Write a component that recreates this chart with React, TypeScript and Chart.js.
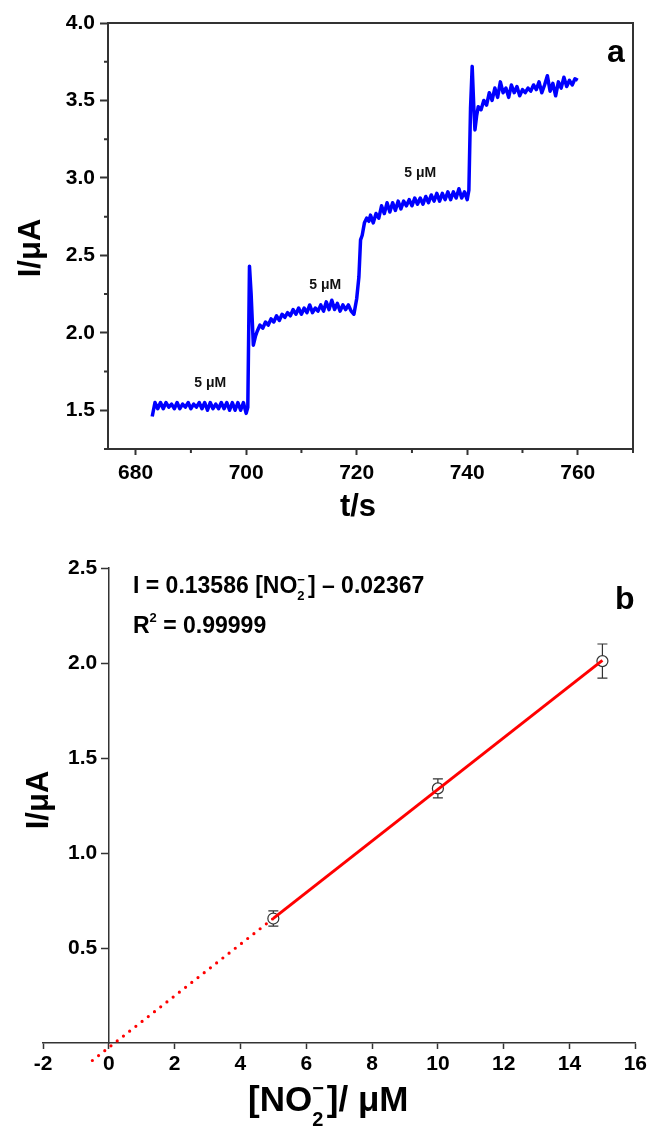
import React, { useEffect, useRef } from 'react';
import { Chart, registerables } from 'chart.js';

Chart.register(...registerables);

const FONT = '"Liberation Sans", Arial, Helvetica, sans-serif';
const AXIS = '#333333';

// ---------- Panel a : amperometric trace ----------
const traceTime = [
  683, 683.5, 684, 684.5, 685, 685.5, 686, 686.5, 687, 687.5,
  688, 688.5, 689, 689.5, 690, 690.5, 691, 691.5, 692, 692.5,
  693, 693.5, 694, 694.5, 695, 695.5, 696, 696.5, 697, 697.5,
  698, 698.5, 699, 699.5, 700, 700.3, 700.6, 700.9, 701.3, 701.7,
  702, 702.5, 703, 703.5, 704, 704.5, 705, 705.5, 706, 706.5,
  707, 707.5, 708, 708.5, 709, 709.5, 710, 710.5, 711, 711.5,
  712, 712.5, 713, 713.5, 714, 714.5, 715, 715.5, 716, 716.5,
  717, 717.5, 718, 718.5, 719, 719.5, 720, 720.4, 720.7, 721,
  721.4, 721.8, 722.2, 722.5, 723, 723.5, 724, 724.5, 725, 725.5,
  726, 726.5, 727, 727.5, 728, 728.5, 729, 729.5, 730, 730.5,
  731, 731.5, 732, 732.5, 733, 733.5, 734, 734.5, 735, 735.5,
  736, 736.5, 737, 737.5, 738, 738.5, 739, 739.5, 740, 740.3,
  740.6, 740.9, 741.2, 741.4, 741.7, 742, 742.5, 743, 743.5, 744,
  744.5, 745, 745.5, 746, 746.5, 747, 747.5, 748, 748.5, 749,
  749.5, 750, 750.5, 751, 751.5, 752, 752.5, 753, 753.5, 754,
  754.5, 755, 755.5, 756, 756.5, 757, 757.5, 758, 758.5, 759,
  759.5, 760,
];
const traceCurrent = [
  1.46, 1.55, 1.51, 1.55, 1.51, 1.55, 1.52, 1.54, 1.51, 1.55,
  1.51, 1.54, 1.52, 1.55, 1.51, 1.54, 1.52, 1.55, 1.51, 1.55,
  1.50, 1.55, 1.51, 1.54, 1.51, 1.55, 1.51, 1.55, 1.50, 1.55,
  1.50, 1.55, 1.50, 1.55, 1.48, 1.52, 2.43, 2.25, 1.92, 1.98,
  2.01, 2.05, 2.03, 2.07, 2.05, 2.09, 2.07, 2.11, 2.08, 2.12,
  2.10, 2.13, 2.11, 2.15, 2.12, 2.16, 2.12, 2.16, 2.13, 2.18,
  2.13, 2.16, 2.14, 2.18, 2.14, 2.20, 2.15, 2.21, 2.15, 2.19,
  2.14, 2.18, 2.15, 2.18, 2.14, 2.12, 2.22, 2.36, 2.60, 2.63,
  2.71, 2.74, 2.72, 2.76, 2.71, 2.77, 2.74, 2.82, 2.77, 2.84,
  2.78, 2.84, 2.79, 2.85, 2.80, 2.85, 2.82, 2.86, 2.82, 2.87,
  2.83, 2.87, 2.83, 2.88, 2.84, 2.89, 2.85, 2.90, 2.85, 2.90,
  2.86, 2.91, 2.86, 2.91, 2.87, 2.93, 2.87, 2.91, 2.86, 2.92,
  3.45, 3.72, 3.45, 3.31, 3.40, 3.46, 3.44, 3.50, 3.47, 3.55,
  3.50, 3.58, 3.52, 3.62, 3.55, 3.58, 3.52, 3.60, 3.55, 3.59,
  3.53, 3.57, 3.55, 3.58, 3.56, 3.60, 3.57, 3.62, 3.55, 3.60,
  3.66, 3.56, 3.61, 3.53, 3.62, 3.58, 3.65, 3.59, 3.63, 3.60,
  3.64, 3.63,
];
const xTicksA = [680, 700, 720, 740, 760];
const xMinorA = [690, 710, 730, 750, 770];
const yTicksA = [1.5, 2.0, 2.5, 3.0, 3.5, 4.0];
const yMinorA = [1.25, 1.75, 2.25, 2.75, 3.25, 3.75];
const stepLabels = ['5 μM', '5 μM', '5 μM'];

// ---------- Panel b : calibration ----------
const concentration = [5, 10, 15];
const currentB = [0.655, 1.34, 2.01];
const errorB = [0.04, 0.05, 0.09];
const fitSolidX = [5, 15];
const fitSolidY = [0.656, 2.014];
const fitDotX = [-0.5, 5];
const fitDotY = [-0.092, 0.656];
const xTicksB = [-2, 0, 2, 4, 6, 8, 10, 12, 14, 16];
const yTicksB = [0.5, 1.0, 1.5, 2.0, 2.5];

type Run = { t: string; size: number; dy?: number; adv?: boolean; gap?: number };
function drawRuns(ctx: CanvasRenderingContext2D, x: number, y: number, runs: Run[]) {
  let cx = x;
  for (const r of runs) {
    ctx.font = `bold ${r.size}px ${FONT}`;
    ctx.fillText(r.t, cx, y + (r.dy || 0));
    if (r.adv !== false) cx += ctx.measureText(r.t).width + (r.gap || 0);
  }
}

const tickFont = { family: FONT, size: 21, weight: 'bold' as const };

function makeConfigA(): any {
  const panelA = {
    id: 'panelA',
    afterDraw(chart: any) {
      const { ctx, chartArea: ca, scales } = chart;
      const xs = scales.x;
      const ys = scales.y;
      ctx.save();
      ctx.strokeStyle = AXIS;
      ctx.lineWidth = 2;
      ctx.beginPath();
      ctx.moveTo(ca.left - 1, ca.top);
      ctx.lineTo(ca.right, ca.top);
      ctx.lineTo(ca.right, ca.bottom + 1);
      ctx.stroke();
      ctx.beginPath();
      xMinorA.forEach((v) => {
        const p = xs.getPixelForValue(v);
        ctx.moveTo(p, ca.bottom);
        ctx.lineTo(p, ca.bottom + 4);
      });
      yMinorA.forEach((v) => {
        const p = ys.getPixelForValue(v);
        ctx.moveTo(ca.left - 4, p);
        ctx.lineTo(ca.left, p);
      });
      ctx.stroke();
      // step annotations (placed in data units)
      const pos = [[693.5, 1.673], [714.3, 2.305], [731.5, 3.034]];
      ctx.fillStyle = '#111';
      ctx.font = `bold 14px ${FONT}`;
      ctx.textAlign = 'center';
      ctx.textBaseline = 'middle';
      stepLabels.forEach((s, i) => {
        ctx.fillText(s, xs.getPixelForValue(pos[i][0]), ys.getPixelForValue(pos[i][1]));
      });
      ctx.fillStyle = '#000';
      ctx.font = `bold 32px ${FONT}`;
      ctx.textAlign = 'left';
      ctx.textBaseline = 'alphabetic';
      ctx.fillText('a', 607, 62);
      ctx.font = `bold 31px ${FONT}`;
      ctx.textAlign = 'center';
      ctx.textBaseline = 'middle';
      ctx.fillText('t/s', 358, 507);
      ctx.save();
      ctx.translate(31, 248);
      ctx.rotate(-Math.PI / 2);
      ctx.fillText('I/μA', 0, 0);
      ctx.restore();
      ctx.restore();
    },
  };
  return {
    type: 'line',
    data: {
      datasets: [
        {
          data: traceTime.map((t, i) => ({ x: t, y: traceCurrent[i] })),
          borderColor: '#0000ff',
          borderWidth: 3.5,
          pointRadius: 0,
          tension: 0,
          borderJoinStyle: 'round',
          fill: false,
        },
      ],
    },
    options: {
      animation: false,
      responsive: false,
      maintainAspectRatio: false,
      layout: { padding: { left: 0, top: 23, right: 17, bottom: 0 } },
      plugins: { legend: { display: false }, tooltip: { enabled: false } },
      scales: {
        x: {
          type: 'linear',
          min: 675,
          max: 770,
          afterBuildTicks: (s: any) => { s.ticks = xTicksA.map((v) => ({ value: v })); },
          afterFit: (s: any) => { s.height = 81; },
          grid: { display: true, drawOnChartArea: false, drawTicks: true, tickLength: 6, tickWidth: 2, tickColor: AXIS },
          border: { display: true, color: AXIS, width: 2 },
          ticks: { color: '#000', font: tickFont, padding: 6, maxRotation: 0, autoSkip: false, callback: (v: any) => String(v) },
        },
        y: {
          type: 'linear',
          min: 1.25,
          max: 4.0,
          afterBuildTicks: (s: any) => { s.ticks = yTicksA.map((v) => ({ value: v })); },
          afterFit: (s: any) => { s.width = 108; },
          grid: { display: true, drawOnChartArea: false, drawTicks: true, tickLength: 8, tickWidth: 2, tickColor: AXIS },
          border: { display: true, color: AXIS, width: 2 },
          ticks: { color: '#000', font: tickFont, padding: 5, autoSkip: false, callback: (v: any) => Number(v).toFixed(1) },
        },
      },
    },
    plugins: [panelA],
  };
}

function makeConfigB(): any {
  const panelB = {
    id: 'panelB',
    afterDatasetsDraw(chart: any) {
      const { ctx, scales } = chart;
      const xs = scales.x;
      const ys = scales.y;
      ctx.save();
      ctx.strokeStyle = AXIS;
      ctx.lineWidth = 1.2;
      concentration.forEach((c, i) => {
        const px = xs.getPixelForValue(c);
        const top = ys.getPixelForValue(currentB[i] + errorB[i]);
        const bot = ys.getPixelForValue(currentB[i] - errorB[i]);
        const mid = ys.getPixelForValue(currentB[i]);
        const r = 5.5;
        ctx.beginPath();
        ctx.moveTo(px, top);
        ctx.lineTo(px, mid - r);
        ctx.moveTo(px, mid + r);
        ctx.lineTo(px, bot);
        ctx.moveTo(px - 5, top);
        ctx.lineTo(px + 5, top);
        ctx.moveTo(px - 5, bot);
        ctx.lineTo(px + 5, bot);
        ctx.stroke();
      });
      ctx.restore();
    },
    afterDraw(chart: any) {
      const { ctx } = chart;
      ctx.save();
      ctx.fillStyle = '#000';
      ctx.textAlign = 'left';
      ctx.textBaseline = 'alphabetic';
      drawRuns(ctx, 133, 63, [
        { t: 'I = 0.13586 [NO', size: 23 },
        { t: '2', size: 13, dy: 7, adv: false },
        { t: '−', size: 13, dy: -9, gap: 3 },
        { t: '] – 0.02367', size: 23 },
      ]);
      drawRuns(ctx, 133, 103, [
        { t: 'R', size: 23 },
        { t: '2', size: 13, dy: -11, gap: 0 },
        { t: ' = 0.99999', size: 23 },
      ]);
      ctx.font = `bold 32px ${FONT}`;
      ctx.fillText('b', 615, 79);
      drawRuns(ctx, 248, 581, [
        { t: '[NO', size: 35 },
        { t: '2', size: 20, dy: 15, adv: false },
        { t: '−', size: 20, dy: -16, gap: 3 },
        { t: ']/ μM', size: 35 },
      ]);
      ctx.font = `bold 31px ${FONT}`;
      ctx.textAlign = 'center';
      ctx.textBaseline = 'middle';
      ctx.save();
      ctx.translate(39, 270);
      ctx.rotate(-Math.PI / 2);
      ctx.fillText('I/μA', 0, 0);
      ctx.restore();
      ctx.restore();
    },
  };
  return {
    type: 'scatter',
    data: {
      datasets: [
        {
          data: fitDotX.map((x, i) => ({ x, y: fitDotY[i] })),
          showLine: true,
          borderColor: '#ff0000',
          borderWidth: 3.2,
          borderDash: [0, 7.9],
          borderCapStyle: 'round',
          pointRadius: 0,
          clip: false,
        },
        {
          data: fitSolidX.map((x, i) => ({ x, y: fitSolidY[i] })),
          showLine: true,
          borderColor: '#ff0000',
          borderWidth: 3,
          pointRadius: 0,
        },
        {
          data: concentration.map((x, i) => ({ x, y: currentB[i] })),
          showLine: false,
          pointRadius: 5.5,
          pointBorderWidth: 1.2,
          pointBorderColor: AXIS,
          pointBackgroundColor: 'rgba(0,0,0,0)',
          clip: false,
        },
      ],
    },
    options: {
      animation: false,
      responsive: false,
      maintainAspectRatio: false,
      layout: { padding: { left: 43, top: 38, right: 11, bottom: 0 } },
      plugins: { legend: { display: false }, tooltip: { enabled: false } },
      scales: {
        x: {
          type: 'linear',
          min: -2,
          max: 16,
          afterBuildTicks: (s: any) => { s.ticks = xTicksB.map((v) => ({ value: v })); },
          afterFit: (s: any) => { s.height = 84; },
          grid: { display: true, drawOnChartArea: false, drawTicks: true, tickLength: 6, tickWidth: 1.5, tickColor: AXIS },
          border: { display: true, color: AXIS, width: 1.5 },
          ticks: { color: '#000', font: tickFont, padding: 3, maxRotation: 0, autoSkip: false, callback: (v: any) => String(v) },
        },
        y: {
          type: 'linear',
          min: 0,
          max: 2.5,
          position: { x: 0 },
          afterBuildTicks: (s: any) => { s.ticks = yTicksB.map((v) => ({ value: v })); },
          grid: { display: true, drawOnChartArea: false, drawTicks: true, tickLength: 7, tickWidth: 1.5, tickColor: AXIS },
          border: { display: true, color: AXIS, width: 1.5 },
          ticks: { color: '#000', font: tickFont, padding: 4, autoSkip: false, callback: (v: any) => Number(v).toFixed(1) + '  ' },
        },
      },
    },
    plugins: [panelB],
  };
}

export default function App() {
  const refA = useRef<HTMLCanvasElement>(null);
  const refB = useRef<HTMLCanvasElement>(null);
  useEffect(() => {
    const a = new Chart(refA.current as HTMLCanvasElement, makeConfigA());
    const b = new Chart(refB.current as HTMLCanvasElement, makeConfigB());
    return () => {
      a.destroy();
      b.destroy();
    };
  }, []);
  return (
    <div style={{ position: 'absolute', left: 0, top: 0, width: 650, height: 1127, background: '#fff', overflow: 'hidden' }}>
      <canvas ref={refA} width={650} height={530} style={{ position: 'absolute', left: 0, top: 0, display: 'block' }} />
      <canvas ref={refB} width={650} height={597} style={{ position: 'absolute', left: 0, top: 530, display: 'block' }} />
    </div>
  );
}
